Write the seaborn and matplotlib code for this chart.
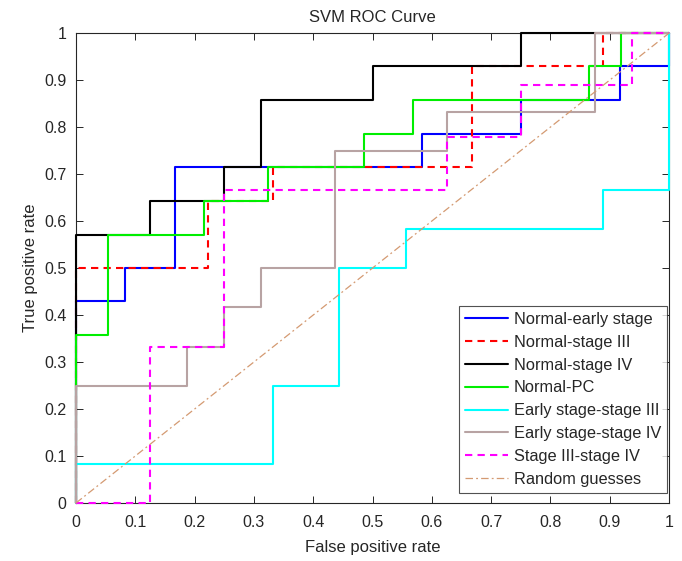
import matplotlib
matplotlib.use("Agg")
import matplotlib.pyplot as plt
import seaborn as sns
import numpy as np

# ---- data (ROC vertices) ----
labels = ["Normal-early stage", "Normal-stage III", "Normal-stage IV", "Normal-PC",
          "Early stage-stage III", "Early stage-stage IV", "Stage III-stage IV",
          "Random guesses"]

fpr_normal_early = [0, 0, 0.083, 0.083, 0.167, 0.167, 0.583, 0.583, 0.75, 0.75, 0.917, 0.917, 1, 1]
tpr_normal_early = [0, 0.429, 0.429, 0.5, 0.5, 0.714, 0.714, 0.786, 0.786, 0.857, 0.857, 0.929, 0.929, 1]

fpr_normal_s3 = [0, 0, 0.222, 0.222, 0.333, 0.333, 0.667, 0.667, 0.889, 0.889, 1]
tpr_normal_s3 = [0, 0.5, 0.5, 0.643, 0.643, 0.714, 0.714, 0.929, 0.929, 1, 1]

fpr_normal_s4 = [0, 0, 0.125, 0.125, 0.25, 0.25, 0.3125, 0.3125, 0.5, 0.5, 0.75, 0.75, 1]
tpr_normal_s4 = [0, 0.571, 0.571, 0.643, 0.643, 0.714, 0.714, 0.857, 0.857, 0.929, 0.929, 1, 1]

fpr_normal_pc = [0, 0, 0.054, 0.054, 0.216, 0.216, 0.324, 0.324, 0.486, 0.486, 0.568, 0.568, 0.865, 0.865, 0.919, 0.919, 1]
tpr_normal_pc = [0, 0.357, 0.357, 0.571, 0.571, 0.643, 0.643, 0.714, 0.714, 0.786, 0.786, 0.857, 0.857, 0.929, 0.929, 1, 1]

fpr_early_s3 = [0, 0, 0.333, 0.333, 0.444, 0.444, 0.556, 0.556, 0.889, 0.889, 1, 1]
tpr_early_s3 = [0, 0.083, 0.083, 0.25, 0.25, 0.5, 0.5, 0.583, 0.583, 0.667, 0.667, 1]

fpr_early_s4 = [0, 0, 0.1875, 0.1875, 0.25, 0.25, 0.3125, 0.3125, 0.4375, 0.4375, 0.625, 0.625, 0.875, 0.875, 1]
tpr_early_s4 = [0, 0.25, 0.25, 0.333, 0.333, 0.417, 0.417, 0.5, 0.5, 0.75, 0.75, 0.833, 0.833, 1, 1]

fpr_s3_s4 = [0, 0.125, 0.125, 0.25, 0.25, 0.625, 0.625, 0.75, 0.75, 0.9375, 0.9375, 1]
tpr_s3_s4 = [0, 0, 0.333, 0.333, 0.667, 0.667, 0.778, 0.778, 0.889, 0.889, 1, 1]

fpr_random = [0, 1]
tpr_random = [0, 1]

tick_values = [0, 0.1, 0.2, 0.3, 0.4, 0.5, 0.6, 0.7, 0.8, 0.9, 1]
tick_labels = ["0", "0.1", "0.2", "0.3", "0.4", "0.5", "0.6", "0.7", "0.8", "0.9", "1"]

# ---- style ----
sns.set_style("ticks")
plt.rcParams["font.family"] = ["Liberation Sans", "DejaVu Sans"]
txt = "#262626"

fig = plt.figure(figsize=(6.82, 5.61), dpi=100)
ax = fig.add_axes([0.1114, 0.1034, 0.8696, 0.8376])

series = [
    (fpr_normal_early, tpr_normal_early, "#0000ff", "-", 1.5),
    (fpr_normal_s3, tpr_normal_s3, "#ff0000", (0, (3.5, 2.5)), 1.5),
    (fpr_normal_s4, tpr_normal_s4, "#000000", "-", 1.5),
    (fpr_normal_pc, tpr_normal_pc, "#00ee00", "-", 1.5),
    (fpr_early_s3, tpr_early_s3, "#00ffff", "-", 1.5),
    (fpr_early_s4, tpr_early_s4, "#b8a3a3", "-", 1.5),
    (fpr_s3_s4, tpr_s3_s4, "#ff00ff", (0, (3.5, 2.5)), 1.5),
    (fpr_random, tpr_random, "#d49a72", (0, (6, 2.5, 1.5, 2.5)), 0.9),
]

for (x, y, c, ls, lw), lab in zip(series, labels):
    sns.lineplot(x=x, y=y, ax=ax, sort=False, estimator=None, color=c,
                 linestyle=ls, linewidth=lw, label=lab, clip_on=False, zorder=3)

ax.set_xlim(0, 1)
ax.set_ylim(0, 1)
ax.set_xticks(tick_values)
ax.set_xticklabels(tick_labels)
ax.set_yticks(tick_values)
ax.set_yticklabels(tick_labels)
ax.tick_params(direction="in", top=True, right=True, length=5, width=0.7,
               colors=txt, labelsize=11.5)
ax.tick_params(axis="x", pad=9)
ax.tick_params(axis="y", pad=7)
for s in ax.spines.values():
    s.set_visible(True)
    s.set_color(txt)
    s.set_linewidth(0.8)
    s.set_zorder(1)

ax.set_title("SVM ROC Curve", fontsize=12, color=txt, pad=8)
ax.set_xlabel("False positive rate", fontsize=12, color=txt, labelpad=7)
ax.set_ylabel("True positive rate", fontsize=12, color=txt, labelpad=4)

leg = ax.legend(loc="lower right", bbox_to_anchor=(0.997, 0.021), borderaxespad=0,
                fontsize=11.8, frameon=True, fancybox=False, handlelength=2.6,
                handletextpad=0.35, labelspacing=0.48, borderpad=0.38)
leg.get_frame().set_edgecolor(txt)
leg.get_frame().set_linewidth(0.8)
leg.set_zorder(5)
for t in leg.get_texts():
    t.set_color(txt)

fig.savefig("out.png", dpi=100)
